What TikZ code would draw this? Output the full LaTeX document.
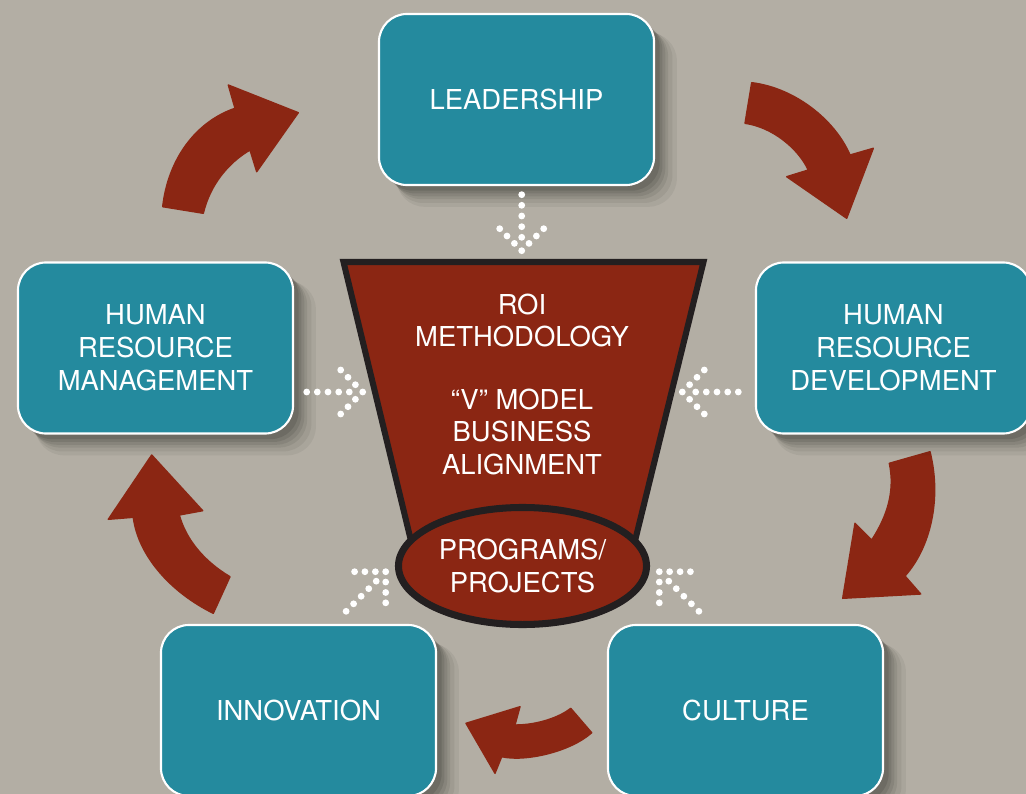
\documentclass[tikz,border=0pt]{standalone}
\usepackage{fontspec}
\setmainfont{TeX Gyre Heros}
\usetikzlibrary{shapes.geometric,shadows}
\definecolor{bgsand}{RGB}{179,174,164}
\definecolor{boxteal}{RGB}{36,138,158}
\definecolor{roired}{RGB}{139,38,19}
\definecolor{rimdark}{RGB}{35,31,32}
\newcommand\lblfont{\fontsize{19.5}{23.4}\selectfont}
\tikzset{
  lbl/.style={text=white,align=center,font=\lblfont,inner sep=0pt},
  box/.style={lbl,draw=white,line width=1.5pt,fill=boxteal,rounded corners=0.7cm,
    minimum width=6.875cm,minimum height=4.275cm,
    drop shadow={shadow xshift=14pt,shadow yshift=-14pt,shadow scale=1.02,fill=black,opacity=.05},
    drop shadow={shadow xshift=12pt,shadow yshift=-12pt,shadow scale=1.01,fill=black,opacity=.06},
    drop shadow={shadow xshift=10pt,shadow yshift=-10pt,fill=black,opacity=.07},
    drop shadow={shadow xshift=8pt,shadow yshift=-8pt,fill=black,opacity=.08},
    drop shadow={shadow xshift=6pt,shadow yshift=-6pt,fill=black,opacity=.09},
    drop shadow={shadow xshift=4pt,shadow yshift=-4pt,fill=black,opacity=.1}},
  bigarrow/.style={fill=roired,draw=roired,line width=1pt,line join=round},
  dotwhite/.style={fill=white}
}
% dotted arrow: tip, direction
\newcommand\dotarrow[2]{%
  \begin{scope}[shift={#1},rotate=#2]
    \foreach \d in {0,-13.4,-24,-34.7,-45.4,-56}
      \fill[dotwhite] (\d,0) circle[radius=3.4];
    \foreach \d in {7.3,14.7,22}{
      \fill[dotwhite] (-\d,\d) circle[radius=3.4];
      \fill[dotwhite] (-\d,-\d) circle[radius=3.4];}
  \end{scope}}
\begin{document}
\begin{tikzpicture}[x=0.025cm,y=-0.025cm]
\useasboundingbox (0,0) rectangle (1026,794);
\clip (0,0) rectangle (1026,794);
\fill[bgsand] (0,0) rectangle (1026,794);

% cycle arrows
\draw[bigarrow] (162.7,206.7) -- (203.3,213.3) .. controls (210,185) and (228,163) .. (250,150)
  -- (256.7,171.7) -- (298.3,112.7) -- (228.3,85) -- (235,108.3)
  .. controls (195,122) and (168,160) .. (162.7,206.7) -- cycle;
\draw[bigarrow] (751.7,82.7) -- (745,123.3) .. controls (772,127) and (798,148) .. (808.3,170)
  -- (786.7,176.7) -- (846.7,218.3) -- (873.3,148.3) -- (850,155)
  .. controls (835,120) and (795,88) .. (751.7,82.7) -- cycle;
\draw[bigarrow] (930,451.7) -- (889.3,463.3) .. controls (895,490) and (888,515) .. (871.7,540)
  -- (855,523.3) -- (842.7,598.3) -- (920.7,594) -- (905,576)
  .. controls (930,548) and (942,500) .. (930,451.7) -- cycle;
\draw[bigarrow] (570.7,708.3) -- (591.7,732.7) .. controls (570,752) and (525,762) .. (501.7,756.7)
  -- (495,773.3) -- (466,723.3) -- (520,706.7) -- (515,725)
  .. controls (538,725) and (560,717) .. (570.7,708.3) -- cycle;
\draw[bigarrow] (151.7,455) -- (108.3,519.3) -- (133.3,517.3)
  .. controls (138,555) and (170,592) .. (213.3,613.3) -- (230,576.7)
  .. controls (205,562) and (186,540) .. (179.3,515) -- (202.7,510.7) -- cycle;

% boxes
\node[box] (lead) at (516.5,99.5) {LEADERSHIP};
\node[box] (hrm) at (155.5,348) {HUMAN\\RESOURCE\\MANAGEMENT};
\node[box] (hrd) at (893.5,348) {HUMAN\\RESOURCE\\DEVELOPMENT};
\node[box] (innov) at (298.5,710.5) {INNOVATION};
\node[box] (cult) at (745.5,710.5) {CULTURE};

% funnel
\draw[fill=roired,draw=rimdark,line width=4.3pt] (343.5,262) -- (703.5,262) -- (634,545) -- (412,545) -- cycle;
\node[lbl] (roi) at (522,320.5) {ROI\\METHODOLOGY};
\node[lbl] (vmodel) at (522,432) {“V” MODEL\\BUSINESS\\ALIGNMENT};
\node[lbl,ellipse,fill=roired,draw=rimdark,line width=5pt,minimum width=6.2cm,minimum height=2.925cm]
  (prog) at (522.5,566) {PROGRAMS/\\PROJECTS};

% dotted arrows
\coordinate (tipN) at (521.7,250.7);
\coordinate (tipW) at (362.7,392);
\coordinate (tipE) at (682.3,392);
\coordinate (tipSW) at (385.7,571.7);
\coordinate (tipSE) at (659.3,571.7);
\dotarrow{(tipN)}{-90}
\dotarrow{(tipW)}{0}
\dotarrow{(tipE)}{180}
\dotarrow{(tipSW)}{45}
\dotarrow{(tipSE)}{135}
\end{tikzpicture}
\end{document}
